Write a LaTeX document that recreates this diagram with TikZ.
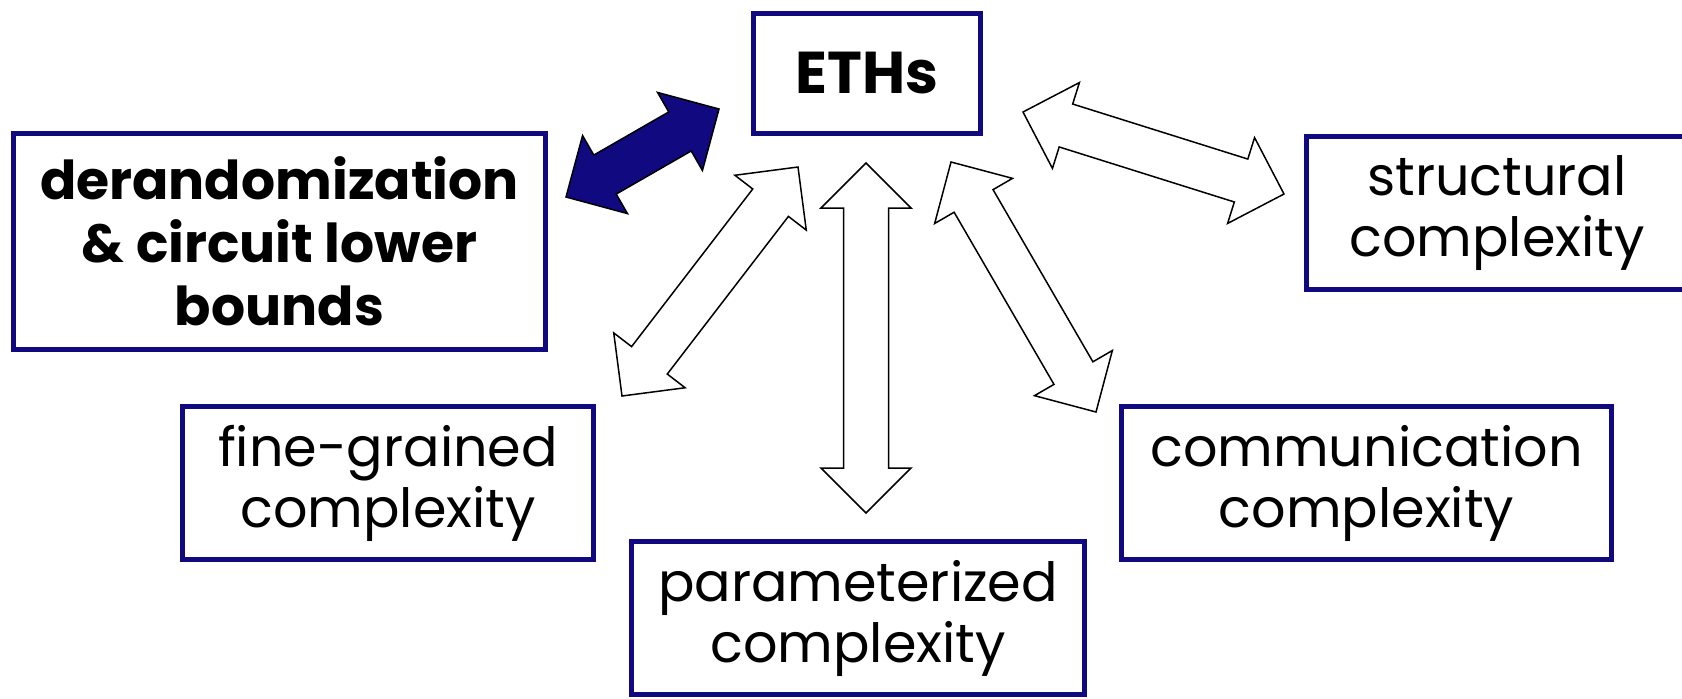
\documentclass[tikz,border=0pt]{standalone}
\usepackage{fontspec}
\setmainfont{Poppins}
\usetikzlibrary{calc}
\definecolor{navy}{RGB}{17,9,128}
\tikzset{
  boxnode/.style={draw=navy, line width=2.75pt, fill=white, inner sep=0pt, align=center},
  boldtext/.style={font=\fontsize{26.8}{31.5}\selectfont\bfseries},
  plaintext/.style={font=\fontsize{27}{30.5}\selectfont},
  arrowshape/.style={draw=black, line width=0.75pt, fill=white, line join=miter},
  bluearrow/.style={arrowshape, fill=navy},
}
% double block arrow between two named tips
\newcommand\blockarrow[3]{%
  \coordinate (baseA) at ($(#2)!22.5pt!(#3)$);
  \coordinate (baseB) at ($(#3)!22.5pt!(#2)$);
  \draw[#1] (#2) -- ($(baseA)!22.5pt!90:(#3)$) -- ($(baseA)!11.25pt!90:(#3)$)
    -- ($(baseB)!11.25pt!-90:(#2)$) -- ($(baseB)!22.5pt!-90:(#2)$) -- (#3)
    -- ($(baseB)!22.5pt!90:(#2)$) -- ($(baseB)!11.25pt!90:(#2)$)
    -- ($(baseA)!11.25pt!-90:(#3)$) -- ($(baseA)!22.5pt!-90:(#3)$) -- cycle;
}
\begin{document}
\begin{tikzpicture}[x=0.5pt,y=-0.5pt]
\useasboundingbox (0,0) rectangle (1682,698);
\clip (0,0) rectangle (1682,698);

\node[boxnode, font=\fontsize{29.5}{36}\selectfont\bfseries, minimum width=113.5pt, minimum height=60pt] (eths) at (867,73.5) {ETHs};
\node[boxnode, boldtext, minimum width=266pt, minimum height=108pt] (derand) at (279.5,241.5) {derandomization\\\& circuit lower\\bounds};
\node[boxnode, plaintext, minimum width=190.5pt, minimum height=76.5pt] (struct) at (1497,213) {structural\\complexity};
\node[boxnode, plaintext, minimum width=205.5pt, minimum height=76.5pt] (fine) at (388,483) {fine-grained\\complexity};
\node[boxnode, plaintext, minimum width=226.5pt, minimum height=76.5pt] (param) at (858,618) {parameterized\\complexity};
\node[boxnode, plaintext, minimum width=245pt, minimum height=76.5pt] (comm) at (1366.5,483) {communication\\complexity};

% arrow tips
\coordinate (blueA) at (566,197);  \coordinate (blueB) at (719,109);
\coordinate (fineA) at (798,167);  \coordinate (fineB) at (622,396);
\coordinate (paramA) at (866,163); \coordinate (paramB) at (866,513);
\coordinate (commA) at (951,162);  \coordinate (commB) at (1096,412);
\coordinate (structA) at (1023,112); \coordinate (structB) at (1284,194);

\blockarrow{bluearrow}{blueA}{blueB}
\blockarrow{arrowshape}{fineA}{fineB}
\blockarrow{arrowshape}{paramA}{paramB}
\blockarrow{arrowshape}{commA}{commB}
\blockarrow{arrowshape}{structA}{structB}
\end{tikzpicture}
\end{document}
